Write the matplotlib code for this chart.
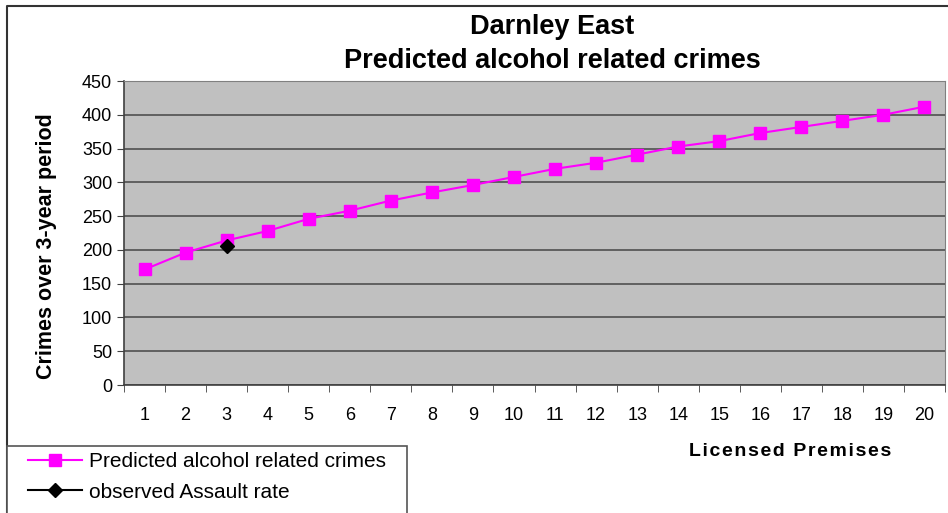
import matplotlib
matplotlib.use("Agg")
import matplotlib.pyplot as plt
from matplotlib.lines import Line2D
from matplotlib.patches import Rectangle

premises = list(range(1, 21))
predicted = [171, 196, 214, 228, 246, 258, 273, 285, 296, 308,
             320, 329, 341, 353, 361, 373, 382, 391, 400, 412]
observed_x = [3]
observed_y = [206]
yticks = [0, 50, 100, 150, 200, 250, 300, 350, 400, 450]

plt.rcParams["font.family"] = ["Liberation Sans", "DejaVu Sans"]

W, H = 948, 513
fig = plt.figure(figsize=(W / 100, H / 100), dpi=100)
ax = fig.add_axes([124 / W, 1 - 385 / H, 821 / W, 304 / H])
ax.set_facecolor("#C0C0C0")

ax.plot(premises, predicted, color="#FF00FF", lw=1.5, marker="s", ms=9,
        label="Predicted alcohol related crimes", zorder=3)
ax.plot(observed_x, observed_y, color="black", lw=1.5, marker="D", ms=7,
        label="observed Assault rate", zorder=4)

ax.set_xlim(0.5, 20.5)
ax.set_ylim(0, 450)
ax.set_yticks(yticks)
ax.set_xticks(premises)
ax.set_xticks([p + 0.5 for p in [0] + premises], minor=True)
ax.tick_params(axis="x", which="major", length=0, pad=16, labelsize=13)
ax.tick_params(axis="x", which="minor", length=5, color="#404040")
ax.tick_params(axis="y", length=5, labelsize=13, color="#404040")
ax.yaxis.grid(True, color="#505050", lw=1.2)
ax.set_axisbelow(True)
for s in ["top", "right"]:
    ax.spines[s].set_color("#808080")
for s in ["left", "bottom"]:
    ax.spines[s].set_color("#404040")
    ax.spines[s].set_linewidth(1.2)

fig.text(47 / W, 1 - 246 / H, "Crimes over 3-year period", rotation=90,
         ha="center", va="center", fontsize=15.5, fontweight="bold")
fig.text(552 / W, 1 - 44 / H, "Darnley East\nPredicted alcohol related crimes",
         ha="center", va="center", fontsize=19.5, fontweight="bold",
         linespacing=1.4)
xlabel = "\u200a \u200a".join("\u200a".join(w) for w in ["Licensed", "Premises"])
fig.text(790 / W, 1 - 451 / H, xlabel, ha="center", va="center",
         fontsize=14, fontweight="bold")

# chart border (left and top edges only, the rest is cropped away)
fig.add_artist(Line2D([7 / W, 7 / W, 1.0], [0.0, 1 - 6 / H, 1 - 6 / H],
                      transform=fig.transFigure, color="#333333", lw=1.5))

# legend box, also cropped at the bottom
fig.add_artist(Rectangle((7 / W, -0.05), 400 / W, 0.05 + 1 - 446 / H,
                         transform=fig.transFigure, facecolor="white",
                         edgecolor="#555555", lw=1.2, zorder=5))
leg = fig.legend(loc="upper left", bbox_to_anchor=(22 / W, 1 - 446 / H),
                 fontsize=15, frameon=False, borderpad=0.3, borderaxespad=0,
                 handlelength=2.6, handletextpad=0.3, labelspacing=0.55)
leg.set_zorder(6)

fig.savefig("out.png", dpi=100)
